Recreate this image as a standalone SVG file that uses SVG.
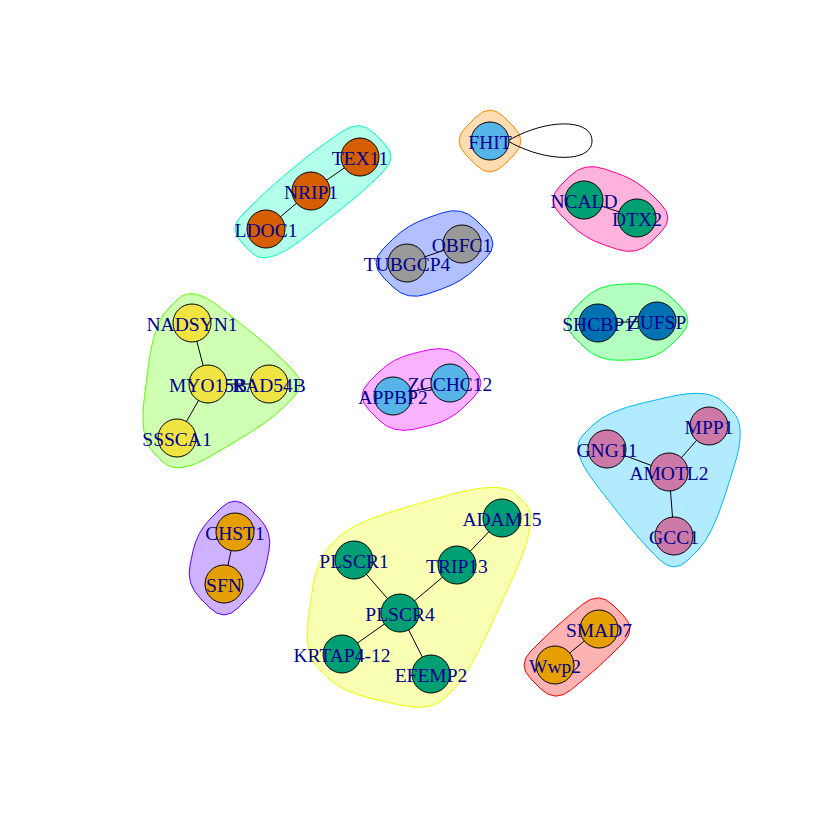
<svg xmlns="http://www.w3.org/2000/svg" width="840" height="840" viewBox="0 0 840 840">
<style>
.hull{stroke-width:1;fill-opacity:0.3}
.e{stroke:#000;stroke-width:1;fill:none}
circle{stroke:#000;stroke-width:1}
text{font-family:"Liberation Serif","Times New Roman",serif;font-size:19.5px;fill:#00008B;text-anchor:middle}
</style>
<rect width="840" height="840" fill="#fff"/>
<g id="groups">
<path class="hull" fill="#FF8B00" stroke="#FF8B00" d="M475.9,117.1 Q490,103 504.1,117.1 L513.9,126.9 Q528,141 513.9,155.1 L504.1,164.9 Q490,179 475.9,164.9 L466.1,155.1 Q452,141 466.1,126.9 Z"/>
<path class="hull" fill="#00FFB9" stroke="#00FFB9" d="M341.9,131.6 Q360,119 374.1,133.1 L383.9,142.9 Q398,157 383.9,171.1 L374.1,180.9 Q360,195 325.2,221.6 L300.8,240.4 Q266,267 251.9,252.9 L242.1,243.1 Q228,229 242.1,214.9 L251.9,205.1 Q266,191 282.7,176.9 L294.3,167.1 Q311,153 329.1,140.4 Z"/>
<path class="hull" fill="#002EFF" stroke="#002EFF" d="M441.6,213 Q462,206 476.1,220.1 L485.9,229.9 Q500,244 485.9,258.1 L476.1,267.9 Q462,282 441.6,289 L427.4,294 Q407,301 392.9,286.9 L383.1,277.1 Q369,263 383.1,248.9 L392.9,239.1 Q407,225 427.4,218 Z"/>
<path class="hull" fill="#FF008B" stroke="#FF008B" d="M569.9,176.1 Q584,162 603.6,168.7 L617.4,173.3 Q637,180 651.1,194.1 L660.9,203.9 Q675,218 660.9,232.1 L651.1,241.9 Q637,256 617.4,249.3 L603.6,244.7 Q584,238 569.9,223.9 L560.1,214.1 Q546,200 560.1,185.9 Z"/>
<path class="hull" fill="#00FF2E" stroke="#00FF2E" d="M583.9,299.1 Q598,285 619.8,284.3 L635.2,283.7 Q657,283 671.1,297.1 L680.9,306.9 Q695,321 680.9,335.1 L671.1,344.9 Q657,359 635.2,359.7 L619.8,360.3 Q598,361 583.9,346.9 L574.1,337.1 Q560,323 574.1,308.9 Z"/>
<path class="hull" fill="#5DFF00" stroke="#5DFF00" d="M177.9,299.1 Q192,285 220.5,307.6 L240.5,323.4 Q269,346 283.1,360.1 L292.9,369.9 Q307,384 292.9,398.1 L283.1,407.9 Q269,422 235,442 L211,456 Q177,476 162.9,461.9 L153.1,452.1 Q139,438 144.6,395.4 L148.4,365.6 Q154,323 168.1,308.9 Z"/>
<path class="hull" fill="#E800FF" stroke="#E800FF" d="M428.9,349.8 Q450,345 464.1,359.1 L473.9,368.9 Q488,383 473.9,397.1 L464.1,406.9 Q450,421 428.9,425.8 L414.1,429.2 Q393,434 378.9,419.9 L369.1,410.1 Q355,396 369.1,381.9 L378.9,372.1 Q393,358 414.1,353.2 Z"/>
<path class="hull" fill="#00B9FF" stroke="#00B9FF" d="M671.3,396.5 Q709,388 723.1,402.1 L732.9,411.9 Q747,426 734,466.7 L725,495.3 Q712,536 697.9,550.1 L688.1,559.9 Q674,574 659.9,559.9 L650.1,550.1 Q636,536 611.2,503.8 L593.8,481.2 Q569,449 583.1,434.9 L592.9,425.1 Q607,411 644.7,402.5 Z"/>
<path class="hull" fill="#5D00FF" stroke="#5D00FF" d="M220.9,508.1 Q235,494 249.1,508.1 L258.9,517.9 Q273,532 268.9,551.2 L266.1,564.8 Q262,584 247.9,598.1 L238.1,607.9 Q224,622 209.9,607.9 L200.1,598.1 Q186,584 190.1,564.8 L192.9,551.2 Q197,532 211.1,517.9 Z"/>
<path class="hull" fill="#E8FF00" stroke="#E8FF00" d="M447.2,495.5 Q502,480 516.1,494.1 L525.9,503.9 Q540,518 513.7,575.7 L495.3,616.3 Q469,674 454.9,688.1 L445.1,697.9 Q431,712 398.1,704.6 L374.9,699.4 Q342,692 327.9,677.9 L318.1,668.1 Q304,654 308.4,619.2 L311.6,594.8 Q316,560 330.1,545.9 L339.9,536.1 Q354,522 408.8,506.5 Z"/>
<path class="hull" fill="#FF0000" stroke="#FF0000" d="M582.7,604.3 Q599,591 613.1,605.1 L622.9,614.9 Q637,629 622.9,643.1 L613.1,652.9 Q599,667 582.7,680.3 L571.3,689.7 Q555,703 540.9,688.9 L531.1,679.1 Q517,665 531.1,650.9 L540.9,641.1 Q555,627 571.3,613.7 Z"/>
</g>
<g id="edges">
<path class="e" d="M506,142 C545,118 592,118 592,141 C592,163 545,163 506,140"/>
<line class="e" x1="360" y1="157" x2="311" y2="191"/>
<line class="e" x1="311" y1="191" x2="266" y2="229"/>
<line class="e" x1="407" y1="263" x2="462" y2="244"/>
<line class="e" x1="584" y1="200" x2="637" y2="218"/>
<line class="e" x1="598" y1="323" x2="657" y2="321"/>
<line class="e" x1="192" y1="323" x2="208" y2="384"/>
<line class="e" x1="208" y1="384" x2="269" y2="384"/>
<line class="e" x1="208" y1="384" x2="177" y2="438"/>
<line class="e" x1="393" y1="396" x2="450" y2="383"/>
<line class="e" x1="709" y1="426" x2="669" y2="472"/>
<line class="e" x1="607" y1="449" x2="669" y2="472"/>
<line class="e" x1="669" y1="472" x2="674" y2="536"/>
<line class="e" x1="235" y1="532" x2="224" y2="584"/>
<line class="e" x1="502" y1="518" x2="457" y2="565"/>
<line class="e" x1="457" y1="565" x2="400" y2="613"/>
<line class="e" x1="354" y1="560" x2="400" y2="613"/>
<line class="e" x1="400" y1="613" x2="342" y2="654"/>
<line class="e" x1="400" y1="613" x2="431" y2="674"/>
<line class="e" x1="599" y1="629" x2="555" y2="665"/>
</g>
<g id="n-FHIT"><circle cx="490" cy="141" r="19" fill="#56B4E9"/><text x="490" y="149">FHIT</text></g>
<g id="n-TEX11"><circle cx="360" cy="157" r="19" fill="#D55E00"/><text x="360" y="165">TEX11</text></g>
<g id="n-NRIP1"><circle cx="311" cy="191" r="19" fill="#D55E00"/><text x="311" y="199">NRIP1</text></g>
<g id="n-LDOC1"><circle cx="266" cy="229" r="19" fill="#D55E00"/><text x="266" y="237">LDOC1</text></g>
<g id="n-OBFC1"><circle cx="462" cy="244" r="19" fill="#999999"/><text x="462" y="252">OBFC1</text></g>
<g id="n-TUBGCP4"><circle cx="407" cy="263" r="19" fill="#999999"/><text x="407" y="271">TUBGCP4</text></g>
<g id="n-NCALD"><circle cx="584" cy="200" r="19" fill="#009E73"/><text x="584" y="208">NCALD</text></g>
<g id="n-DTX2"><circle cx="637" cy="218" r="19" fill="#009E73"/><text x="637" y="226">DTX2</text></g>
<g id="n-ZUFSP"><circle cx="657" cy="321" r="19" fill="#0072B2"/><text x="657" y="329">ZUFSP</text></g>
<g id="n-SHCBP1"><circle cx="598" cy="323" r="19" fill="#0072B2"/><text x="598" y="331">SHCBP1</text></g>
<g id="n-NADSYN1"><circle cx="192" cy="323" r="19" fill="#F0E442"/><text x="192" y="331">NADSYN1</text></g>
<g id="n-RAD54B"><circle cx="269" cy="384" r="19" fill="#F0E442"/><text x="269" y="392">RAD54B</text></g>
<g id="n-MYO15B"><circle cx="208" cy="384" r="19" fill="#F0E442"/><text x="208" y="392">MYO15B</text></g>
<g id="n-SSSCA1"><circle cx="177" cy="438" r="19" fill="#F0E442"/><text x="177" y="446">SSSCA1</text></g>
<g id="n-APPBP2"><circle cx="393" cy="396" r="19" fill="#56B4E9"/><text x="393" y="404">APPBP2</text></g>
<g id="n-ZCCHC12"><circle cx="450" cy="383" r="19" fill="#56B4E9"/><text x="450" y="391">ZCCHC12</text></g>
<g id="n-MPP1"><circle cx="709" cy="426" r="19" fill="#CC79A7"/><text x="709" y="434">MPP1</text></g>
<g id="n-GNG11"><circle cx="607" cy="449" r="19" fill="#CC79A7"/><text x="607" y="457">GNG11</text></g>
<g id="n-AMOTL2"><circle cx="669" cy="472" r="19" fill="#CC79A7"/><text x="669" y="480">AMOTL2</text></g>
<g id="n-GCC1"><circle cx="674" cy="536" r="19" fill="#CC79A7"/><text x="674" y="544">GCC1</text></g>
<g id="n-CHST1"><circle cx="235" cy="532" r="19" fill="#E69F00"/><text x="235" y="540">CHST1</text></g>
<g id="n-SFN"><circle cx="224" cy="584" r="19" fill="#E69F00"/><text x="224" y="592">SFN</text></g>
<g id="n-ADAM15"><circle cx="502" cy="518" r="19" fill="#009E73"/><text x="502" y="526">ADAM15</text></g>
<g id="n-PLSCR1"><circle cx="354" cy="560" r="19" fill="#009E73"/><text x="354" y="568">PLSCR1</text></g>
<g id="n-TRIP13"><circle cx="457" cy="565" r="19" fill="#009E73"/><text x="457" y="573">TRIP13</text></g>
<g id="n-PLSCR4"><circle cx="400" cy="613" r="19" fill="#009E73"/><text x="400" y="621">PLSCR4</text></g>
<g id="n-KRTAP4-12"><circle cx="342" cy="654" r="19" fill="#009E73"/><text x="342" y="662">KRTAP4-12</text></g>
<g id="n-EFEMP2"><circle cx="431" cy="674" r="19" fill="#009E73"/><text x="431" y="682">EFEMP2</text></g>
<g id="n-SMAD7"><circle cx="599" cy="629" r="19" fill="#E69F00"/><text x="599" y="637">SMAD7</text></g>
<g id="n-Wwp2"><circle cx="555" cy="665" r="19" fill="#E69F00"/><text x="555" y="673">Wwp2</text></g>
</svg>
